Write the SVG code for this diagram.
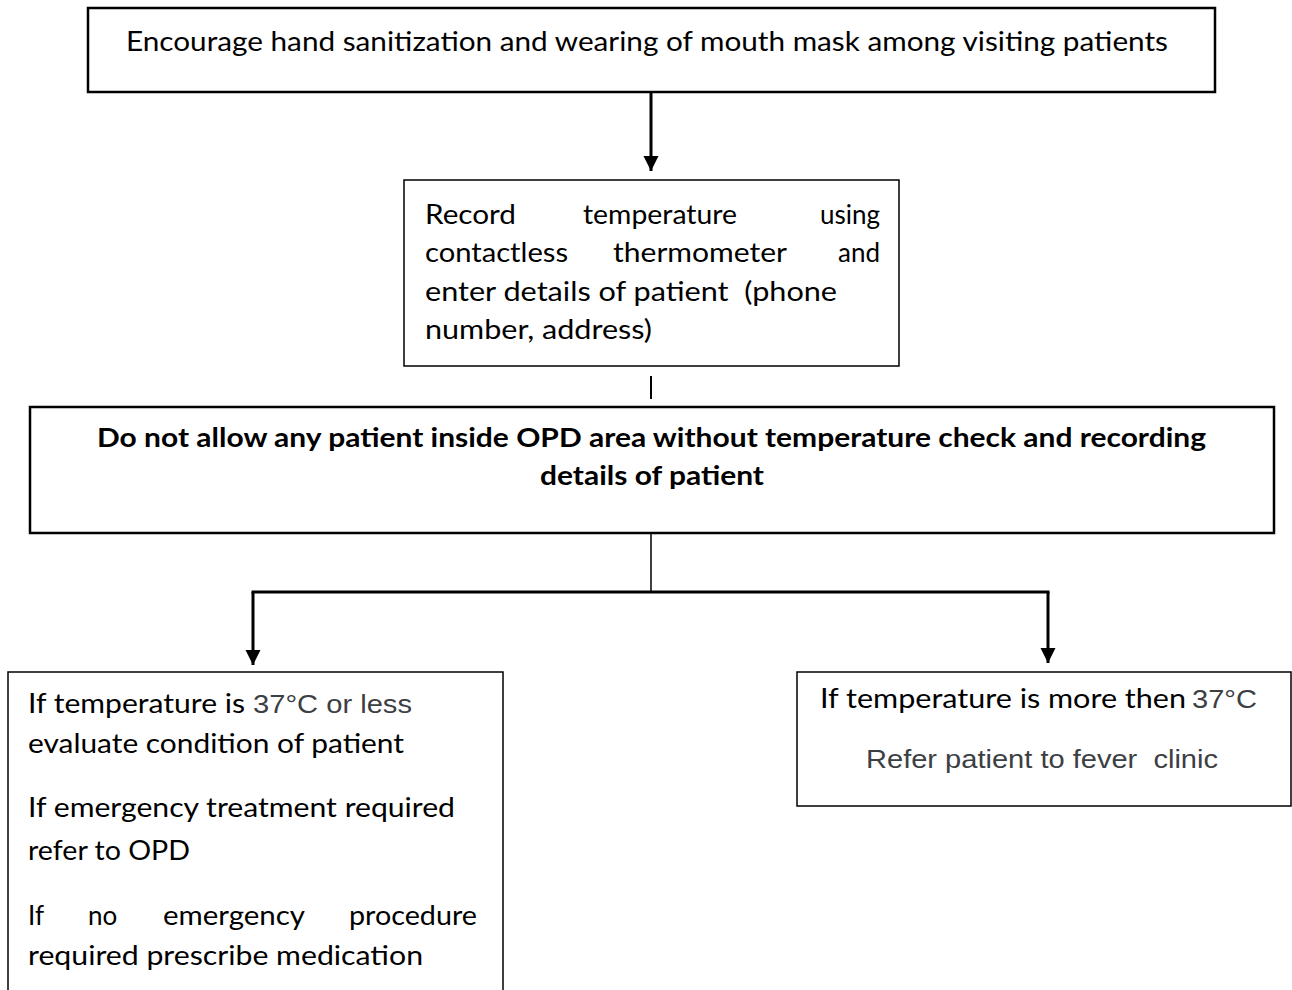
<svg xmlns="http://www.w3.org/2000/svg" width="1292" height="990" viewBox="0 0 1292 990">
  <style>
    .box { fill: #ffffff; stroke: #000000; }
    .t { font-family: Lato, "Open Sans", sans-serif; font-size: 26px; fill: #000000; }
    .b { font-weight: bold; }
    .end { text-anchor: end; }
    .g { font-family: "Liberation Sans", Arial, sans-serif; font-size: 25px; fill: #3c4043; }
    .conn { fill: none; stroke: #000000; }
  </style>
  <defs>
    <marker id="arrow" markerUnits="userSpaceOnUse" markerWidth="16" markerHeight="16" refX="15" refY="7.5" orient="auto">
      <path d="M0,0 L15,7.5 L0,15 Z" fill="#000000"/>
    </marker>
  </defs>

  <rect width="1292" height="990" fill="#ffffff"/>

  <!-- step 1: hygiene at entry -->
  <g id="node-sanitize">
    <rect class="box" x="88" y="8" width="1127" height="84" stroke-width="2.5"/>
    <text class="t" x="126" y="51" textLength="1042" lengthAdjust="spacingAndGlyphs">Encourage hand sanitization and wearing of mouth mask among visiting patients</text>
  </g>

  <!-- step 2: temperature and contact details (justified lines) -->
  <g id="node-record">
    <rect class="box" x="404" y="180" width="495" height="186" stroke-width="1.5"/>
    <text class="t" x="425" y="224" textLength="91" lengthAdjust="spacingAndGlyphs">Record</text>
    <text class="t" x="583" y="224" textLength="154" lengthAdjust="spacingAndGlyphs">temperature</text>
    <text class="t end" x="880" y="224">using</text>
    <text class="t" x="425" y="262" textLength="143" lengthAdjust="spacingAndGlyphs">contactless</text>
    <text class="t" x="613" y="262" textLength="174" lengthAdjust="spacingAndGlyphs">thermometer</text>
    <text class="t end" x="880" y="262">and</text>
    <text class="t" x="425" y="301" textLength="412" lengthAdjust="spacingAndGlyphs" xml:space="preserve">enter details of patient  (phone</text>
    <text class="t" x="425" y="339" textLength="227" lengthAdjust="spacingAndGlyphs">number, address)</text>
  </g>

  <!-- step 3: entry rule -->
  <g id="node-rule">
    <rect class="box" x="30" y="407" width="1244" height="126" stroke-width="2.5"/>
    <text class="t b" x="97" y="447" textLength="1109" lengthAdjust="spacingAndGlyphs">Do not allow any patient inside OPD area without temperature check and recording</text>
    <text class="t b" x="540" y="485" textLength="224" lengthAdjust="spacingAndGlyphs">details of patient</text>
  </g>

  <!-- branch: normal temperature -->
  <g id="node-normal">
    <rect class="box" x="8" y="672" width="495" height="340" stroke-width="1.5"/>
    <text class="t" x="28" y="713" textLength="217" lengthAdjust="spacingAndGlyphs">If temperature is</text>
    <text class="g" x="253" y="713" textLength="159" lengthAdjust="spacingAndGlyphs">37°C or less</text>
    <text class="t" x="28" y="753" textLength="376" lengthAdjust="spacingAndGlyphs">evaluate condition of patient</text>
    <text class="t" x="28" y="817" textLength="427" lengthAdjust="spacingAndGlyphs">If emergency treatment required</text>
    <text class="t" x="28" y="860" textLength="162" lengthAdjust="spacingAndGlyphs">refer to OPD</text>
    <text class="t" x="28" y="925">If</text>
    <text class="t" x="88" y="925">no</text>
    <text class="t" x="163" y="925" textLength="142" lengthAdjust="spacingAndGlyphs">emergency</text>
    <text class="t end" x="477" y="925" textLength="128" lengthAdjust="spacingAndGlyphs">procedure</text>
    <text class="t" x="28" y="965" textLength="395" lengthAdjust="spacingAndGlyphs">required prescribe medication</text>
  </g>

  <!-- branch: fever -->
  <g id="node-fever">
    <rect class="box" x="797" y="672" width="494" height="134" stroke-width="1.5"/>
    <text class="t" x="820" y="708" textLength="366" lengthAdjust="spacingAndGlyphs">If temperature is more then</text>
    <text class="g" x="1192" y="708" textLength="65" lengthAdjust="spacingAndGlyphs">37°C</text>
    <text class="g" x="866" y="768" textLength="352" lengthAdjust="spacingAndGlyphs" xml:space="preserve">Refer patient to fever  clinic</text>
  </g>

  <!-- connectors -->
  <g id="connectors">
    <line class="conn" x1="651" y1="93" x2="651" y2="171" stroke-width="3" marker-end="url(#arrow)"/>
    <line class="conn" x1="651" y1="376" x2="651" y2="399" stroke-width="2"/>
    <line class="conn" x1="651" y1="534" x2="651" y2="592" stroke-width="1.5"/>
    <line class="conn" x1="251.5" y1="592" x2="1049.5" y2="592" stroke-width="3"/>
    <line class="conn" x1="253" y1="592" x2="253" y2="665" stroke-width="3" marker-end="url(#arrow)"/>
    <line class="conn" x1="1048" y1="592" x2="1048" y2="663" stroke-width="3" marker-end="url(#arrow)"/>
  </g>
</svg>
